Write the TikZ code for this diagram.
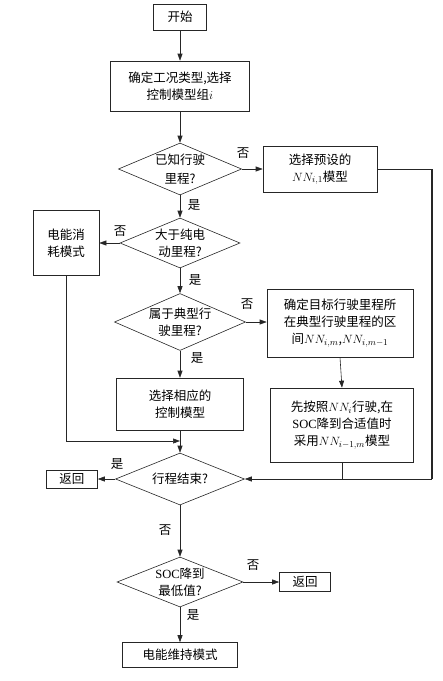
\documentclass[tikz,border=0pt]{standalone}
\usepackage{fontspec}
\setmainfont{Liberation Serif}
\newfontfamily\cjk{Noto Sans CJK SC}
\usetikzlibrary{arrows.meta, shapes.geometric}

\begin{document}
\begin{tikzpicture}[
  x=1pt, y=-1pt,
  >={Triangle[length=7pt,width=5pt]},
  font={\cjk\fontsize{12.5}{17}\selectfont},
  stepbox/.style={draw=black!85, line width=0.6pt, align=center, inner sep=0pt},
  choice/.style={draw=black!85, line width=0.6pt, shape=diamond, aspect=2.4,
                 align=center, inner sep=0pt},
  flow/.style={->, line width=0.6pt, draw=black!85},
  link/.style={line width=0.6pt, draw=black!85},
  tag/.style={inner sep=0pt}
]
\useasboundingbox (0,0) rectangle (443,681);

\node[stepbox, minimum width=53pt, minimum height=26pt] (start) at (180,17) {开始};
\node[stepbox, minimum width=139pt, minimum height=50pt] (setup) at (180,86)
  {确定工况类型,选择\\控制模型组$i$};
\node[choice, minimum width=120pt, minimum height=52pt] (known) at (180,169)
  {已知行驶\\[2pt]里程?};
\node[stepbox, minimum width=114pt, minimum height=46pt] (preset) at (320,169)
  {选择预设的\\$NN_{i,1}$模型};
\node[choice, minimum width=120pt, minimum height=50pt] (pure) at (180,243)
  {大于纯电\\动里程?};
\node[stepbox, minimum width=66pt, minimum height=65pt] (consume) at (66,243)
  {电能消\\耗模式};
\node[choice, minimum width=124pt, minimum height=57pt] (typical) at (180,322)
  {属于典型行\\驶里程?};
\node[stepbox, minimum width=146pt, minimum height=68pt] (interval) at (340,323)
  {确定目标行驶里程所\\在典型行驶里程的区\\间$NN_{i,m}$,$NN_{i,m-1}$};
\node[stepbox, minimum width=127pt, minimum height=52pt] (select) at (180,404)
  {选择相应的\\控制模型};
\node[stepbox, minimum width=143pt, minimum height=74pt] (switch) at (342,425)
  {先按照$NN_i$行驶,在\\{\rmfamily SOC}降到合适值时\\采用$NN_{i-1,m}$模型};
\node[choice, minimum width=129pt, minimum height=52pt] (end) at (180,479)
  {行程结束?};
\node[stepbox, minimum width=51pt, minimum height=18pt] (ret1) at (72,479) {返回};
\node[choice, minimum width=126pt, minimum height=50pt] (soc) at (180,582)
  {{\rmfamily SOC}降到\\最低值?};
\node[stepbox, minimum width=51pt, minimum height=19pt] (ret2) at (305,582) {返回};
\node[stepbox, minimum width=115pt, minimum height=25pt] (sustain) at (180,655)
  {电能维持模式};

\coordinate (merge) at (180,441);
\coordinate (corner) at (432,169);
\coordinate (rail) at (432,479);

\draw[flow] (start) -- (setup);
\draw[flow] (setup) -- (known);
\draw[flow] (known.east) -- (preset.west);
\draw[flow] (known.south) -- (pure.north);
\draw[flow] (pure.west) -- (consume.east);
\draw[flow] (pure.south) -- (typical.north);
\draw[flow] (typical.east) -- (typical.east -| interval.west);
\draw[flow] (typical.south) -- (select.north);
\draw[flow] (interval.south) -- (switch.north);
\draw[flow] (consume.south) |- (merge);
\draw[flow] (select.south) -- (end.north);
\draw[link] (preset.east) -- (corner);
\draw[link, line width=1.3pt] (corner) -- (rail);
\draw[flow] (rail) -- (end.east);
\draw[link] (switch.south) -- (switch.south |- end.east);
\draw[flow] (end.west) -- (ret1.east);
\draw[flow] (end.south) -- (soc.north);
\draw[flow] (soc.east) -- (ret2.west);
\draw[flow] (soc.south) -- (sustain.north);

\node[tag] (l1) at (243,153) {否};
\node[tag] (l2) at (194,205) {是};
\node[tag] (l3) at (120,231) {否};
\node[tag] (l4) at (195,280) {是};
\node[tag] (l5) at (247,304) {否};
\node[tag] (l6) at (197,358) {是};
\node[tag] (l7) at (117,464) {是};
\node[tag] (l8) at (165,530) {否};
\node[tag] (l9) at (253,565) {否};
\node[tag] (l10) at (193,615) {是};
\end{tikzpicture}
\end{document}
